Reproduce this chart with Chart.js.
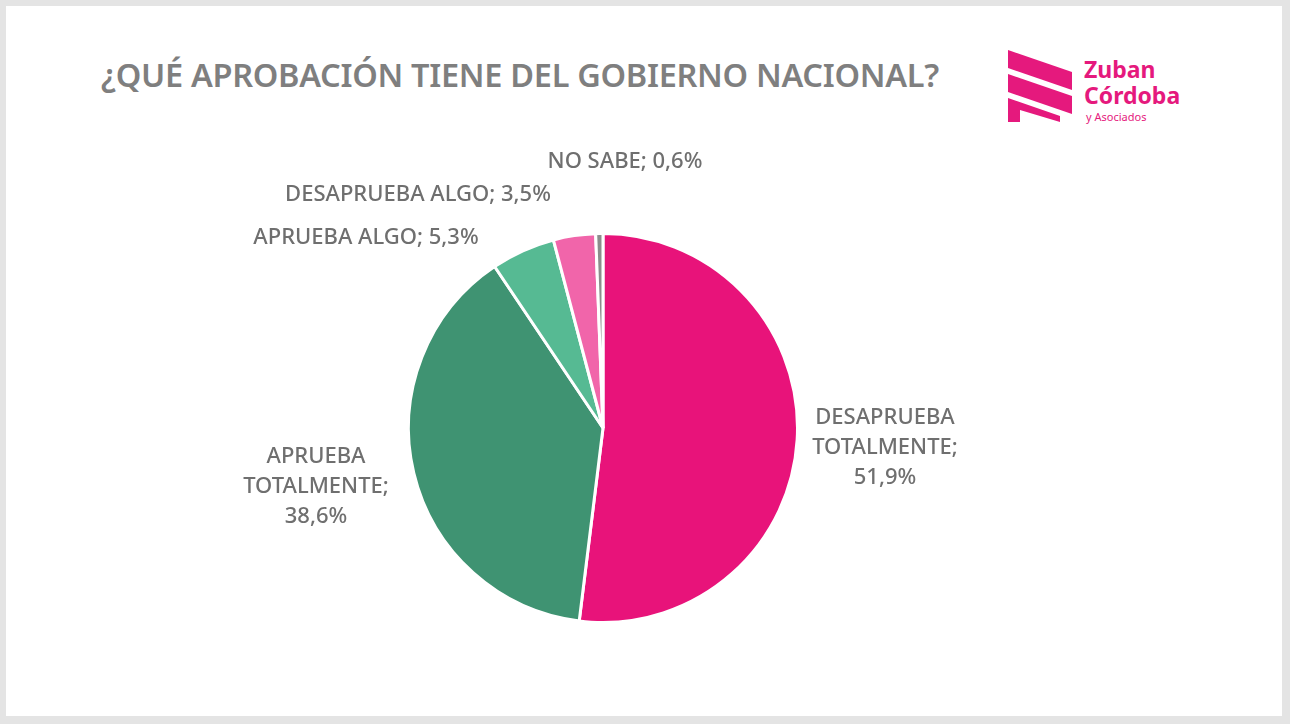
<!DOCTYPE html>
<html lang="es">
<head>
<meta charset="UTF-8">
<title>¿Qué aprobación tiene del gobierno nacional?</title>
<script src="https://cdn.jsdelivr.net/npm/chart.js@4.4.0/dist/chart.umd.min.js"></script>
<style>
    body { margin: 0; background: #e4e4e4; width: 1290px; height: 724px; overflow: hidden; font-family: "Noto Sans", sans-serif; }
    #slide { position: absolute; left: 6px; top: 6px; width: 1276px; height: 710px; background: #ffffff; }
    h1 { position: absolute; left: 101px; top: 52px; margin: 0; font-size: 32.5px; font-weight: 600; color: #7f7f7f; letter-spacing: -0.3px; }
    #logo { position: absolute; left: 1000px; top: 42px; }
    #chartBox { position: absolute; left: 0; top: 0; width: 1290px; height: 724px; }
</style>
</head>
<body>
<div id="slide"></div>
<h1>¿QUÉ APROBACIÓN TIENE DEL GOBIERNO NACIONAL?</h1>
<svg id="logo" width="200" height="90" viewBox="0 0 200 90">
    <polygon points="8,8 72,30 72,48 8,26" fill="#e5197d"/>
    <polygon points="8,32 72,54 72,72 8,50" fill="#e5197d"/>
    <polygon points="8,56 60,74 60,80 20,68 20,80 8,80" fill="#e5197d"/>
    <text x="84" y="36" font-family="Noto Sans" font-weight="700" font-size="23" fill="#e5197d">Zuban</text>
    <text x="84" y="62" font-family="Noto Sans" font-weight="700" font-size="23" fill="#e5197d">Córdoba</text>
    <text x="86" y="79" font-family="Noto Sans" font-size="11" fill="#e5197d">y Asociados</text>
</svg>
<div id="chartBox"><canvas id="pie"></canvas></div>
<script>
const categories = ['DESAPRUEBA TOTALMENTE', 'APRUEBA TOTALMENTE', 'APRUEBA ALGO', 'DESAPRUEBA ALGO', 'NO SABE'];
const values = [51.9, 38.6, 5.3, 3.5, 0.6];
const valueLabels = ['51,9%', '38,6%', '5,3%', '3,5%', '0,6%'];
const sliceColors = ['#e8137a', '#3f9372', '#56ba93', '#f165aa', '#8c8c8c'];
// label lines and offsets from pie centre
const labelLines = [
    ['DESAPRUEBA', 'TOTALMENTE;', '51,9%'],
    ['APRUEBA', 'TOTALMENTE;', '38,6%'],
    ['APRUEBA ALGO; 5,3%'],
    ['DESAPRUEBA ALGO; 3,5%'],
    ['NO SABE; 0,6%']
];
const labelOffsets = [[282, 20], [-287, 59], [-237, -190], [-185, -233], [22, -266]];

const labelPlugin = {
    id: 'sliceLabels',
    afterDraw(chart) {
        const ctx = chart.ctx;
        const arc = chart.getDatasetMeta(0).data[0];
        ctx.save();
        ctx.font = '500 22px "Noto Sans"';
        ctx.fillStyle = '#6f6f6f';
        ctx.textAlign = 'center';
        ctx.textBaseline = 'middle';
        labelLines.forEach((lines, i) => {
            const [dx, dy] = labelOffsets[i];
            const h = 30;
            lines.forEach((t, j) => {
                ctx.fillText(t, arc.x + dx, arc.y + dy + (j - (lines.length - 1) / 2) * h);
            });
        });
        ctx.restore();
    }
};

new Chart(document.getElementById('pie'), {
    type: 'pie',
    data: {
        labels: categories,
        datasets: [{ data: values, backgroundColor: sliceColors, borderColor: '#ffffff', borderWidth: 3 }]
    },
    options: {
        responsive: true,
        maintainAspectRatio: false,
        animation: false,
        layout: { padding: { left: 406, right: 490, top: 232, bottom: 100 } },
        plugins: { legend: { display: false }, tooltip: { enabled: false } }
    },
    plugins: [labelPlugin]
});
</script>
</body>
</html>
